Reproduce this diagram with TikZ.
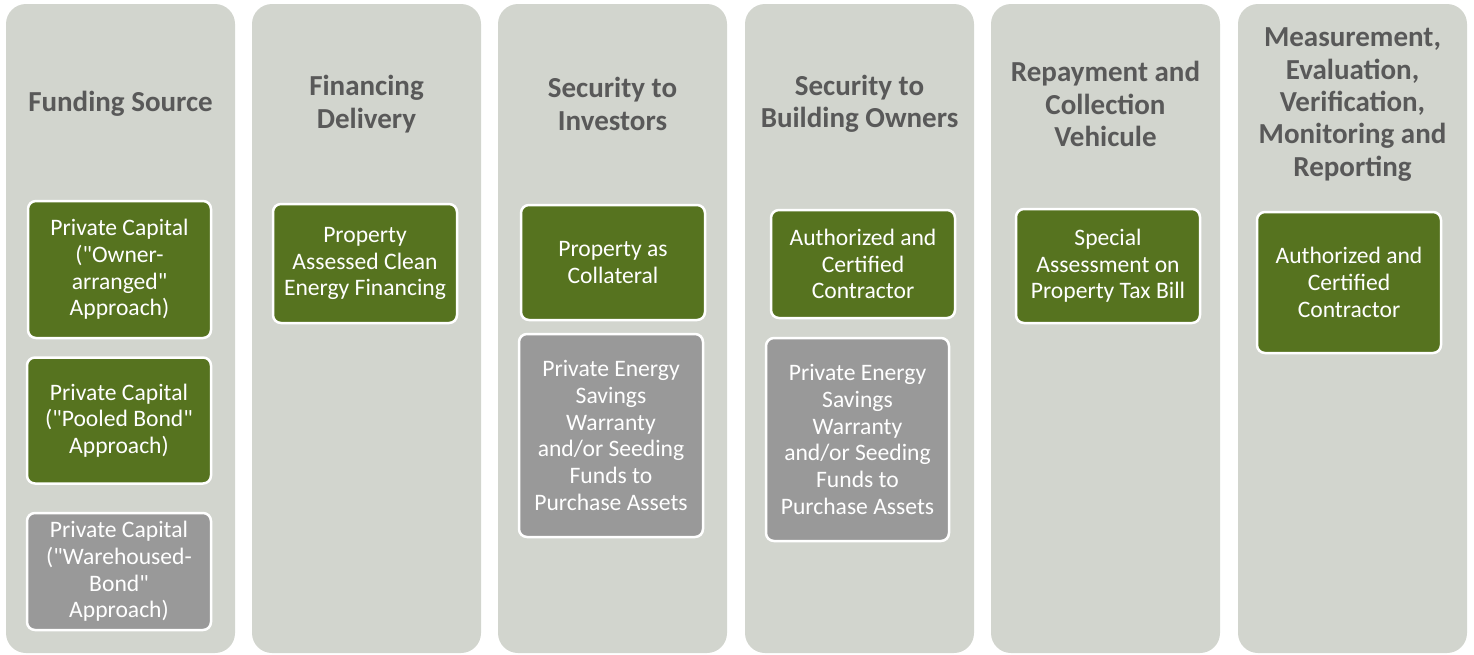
\documentclass[tikz,border=0pt]{standalone}
\usepackage{fontspec}
\setmainfont{Carlito}[Ligatures=TeXOff]
\definecolor{colbg}{RGB}{210,213,206}
\definecolor{grn}{RGB}{86,115,31}
\definecolor{gry}{RGB}{153,153,153}
\definecolor{hdr}{RGB}{89,89,89}
\begin{document}
\begin{tikzpicture}[x=1pt,y=-1pt,
  colbox/.style={fill=colbg, draw=none, rounded corners=20pt, minimum width=229pt, minimum height=649pt, inner sep=0pt},
  hdrtext/.style={text=hdr, font=\fontsize{29}{32.3}\selectfont\bfseries, align=center, inner sep=0pt},
  gbox/.style={fill=grn, draw=white, line width=2.5pt, rounded corners=8pt, text=white, font=\fontsize{23.6}{26.7}\selectfont, align=center, inner sep=0pt},
  ybox/.style={gbox, fill=gry}]
\useasboundingbox (0,0) rectangle (1474,654);
% columns
\node[colbox] (c1) at (120.5,328.5) {};
\node[colbox] (c2) at (366.5,328.5) {};
\node[colbox] (c3) at (612.5,328.5) {};
\node[colbox] (c4) at (859.5,328.5) {};
\node[colbox] (c5) at (1105.5,328.5) {};
\node[colbox] (c6) at (1352.5,328.5) {};
% headers
\node[hdrtext] (h1) at (120.5,104) {Funding Source};
\node[hdrtext] (h2) at (366.5,104) {Financing\\Delivery};
\node[hdrtext] (h3) at (612.5,104) {Security to\\Investors};
\node[hdrtext] (h4) at (859.5,104) {Security to\\Building Owners};
\node[hdrtext] (h5) at (1105.5,104) {Repayment and\\Collection\\Vehicule};
\node[hdrtext] (h6) at (1352.5,104.5) {Measurement,\\Evaluation,\\Verification,\\Monitoring and\\Reporting};
% boxes
\node[gbox, minimum width=183pt, minimum height=137pt] (b11) at (119.5,269.5) {Private Capital\\("Owner-\\arranged"\\Approach)};
\node[gbox, minimum width=184pt, minimum height=126pt] (b12) at (119,420.5) {Private Capital\\("Pooled Bond"\\Approach)};
\node[ybox, minimum width=184pt, minimum height=117pt] (b13) at (119,571.5) {Private Capital\\("Warehoused-\\Bond"\\Approach)};
\node[gbox, minimum width=184pt, minimum height=119pt] (b21) at (365,263.5) {Property\\Assessed Clean\\Energy Financing};
\node[gbox, minimum width=184pt, minimum height=115pt] (b31) at (613,262.5) {Property as\\Collateral};
\node[ybox, minimum width=184pt, minimum height=203pt] (b32) at (611,435.5) {Private Energy\\Savings\\Warranty\\and/or Seeding\\Funds to\\Purchase Assets};
\node[gbox, minimum width=184pt, minimum height=108pt] (b41) at (863,264) {Authorized and\\Certified\\Contractor};
\node[ybox, minimum width=183pt, minimum height=203pt] (b42) at (857.5,439.5) {Private Energy\\Savings\\Warranty\\and/or Seeding\\Funds to\\Purchase Assets};
\node[gbox, minimum width=184pt, minimum height=114pt] (b51) at (1108,266) {Special\\Assessment on\\Property Tax Bill};
\node[gbox, minimum width=184pt, minimum height=141pt] (b61) at (1349,282.5) {Authorized and\\Certified\\Contractor};
\end{tikzpicture}
\end{document}
